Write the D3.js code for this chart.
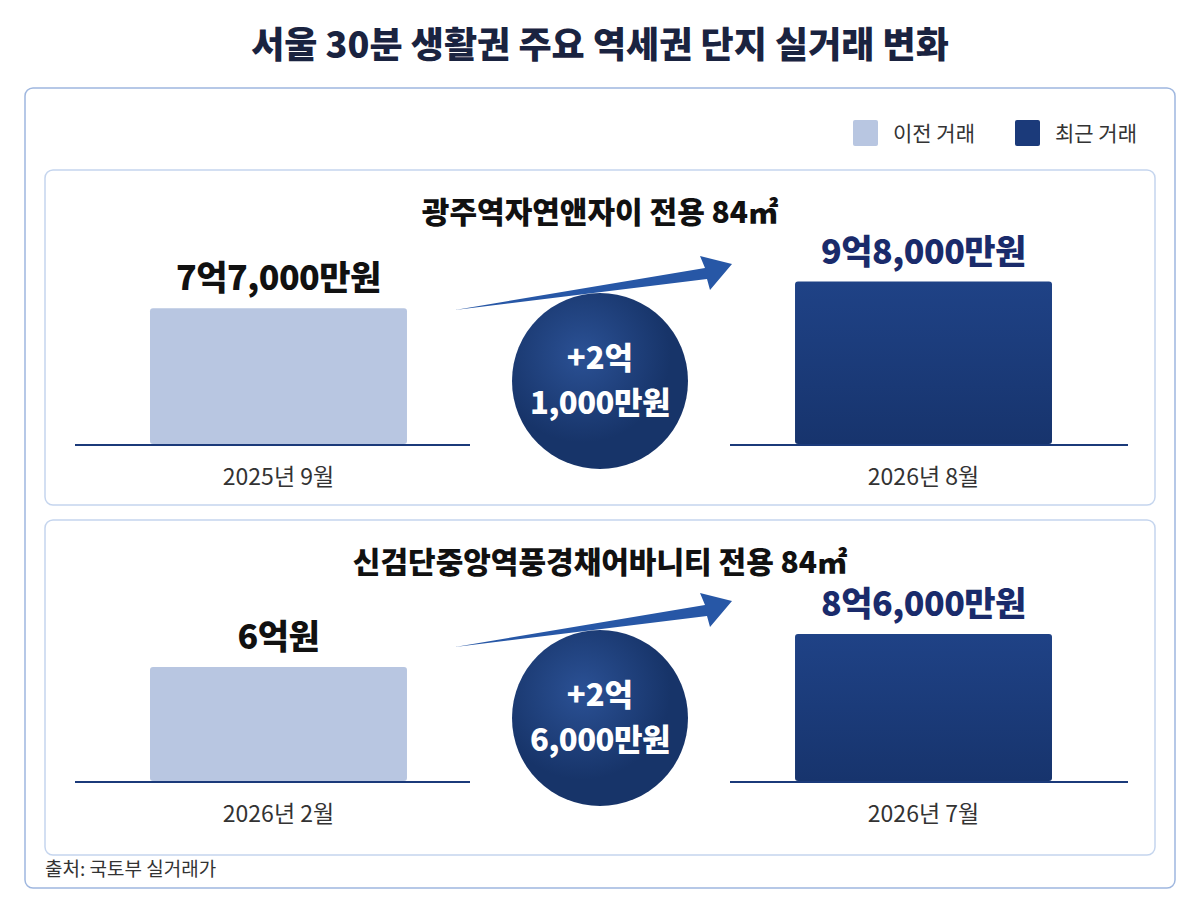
<!DOCTYPE html><html><head><meta charset="utf-8">
<script src="https://cdn.jsdelivr.net/npm/d3@7"></script>
<style>body{margin:0;background:#fff}text{font-family:"Noto Sans CJK KR","Noto Sans",sans-serif}</style></head><body>
<svg id="c" width="1200" height="900"></svg>
<script>
const titles=["광주역자연앤자이 전용 84㎡","신검단중앙역풍경채어바니티 전용 84㎡"];
const prevValues=[77000,60000];
const recentValues=[98000,86000];
const prevLabels=["7억7,000만원","6억원"];
const recentLabels=["9억8,000만원","8억6,000만원"];
const prevDates=["2025년 9월","2026년 2월"];
const recentDates=["2026년 8월","2026년 7월"];
const diffLines=[["+2억","1,000만원"],["+2억","6,000만원"]];
const legendLabels=["이전 거래","최근 거래"];
const LIGHT="#b8c6e1",DARK="#1b3a7a",NAVY="#1a2b6b";
const svg=d3.select("#c");
const defs=svg.append("defs");
const g1=defs.append("radialGradient").attr("id","cg").attr("cx","40%").attr("cy","35%");
g1.append("stop").attr("offset","0%").attr("stop-color","#2b5195");
g1.append("stop").attr("offset","100%").attr("stop-color","#173469");
const g2=defs.append("linearGradient").attr("id","bg").attr("x1",0).attr("y1",0).attr("x2",0).attr("y2",1);
g2.append("stop").attr("offset","0%").attr("stop-color","#1f4286");
g2.append("stop").attr("offset","100%").attr("stop-color","#17346d");
svg.append("text").attr("x",600).attr("y",58).attr("text-anchor","middle").attr("font-size",36).attr("font-weight",900).attr("fill","#1a2340").text("서울 30분 생활권 주요 역세권 단지 실거래 변화");
svg.append("rect").attr("x",25).attr("y",88).attr("width",1150).attr("height",800).attr("rx",8).attr("fill","#fff").attr("stroke","#9fb7df").attr("stroke-width",1.5);
[[853,LIGHT],[1015,DARK]].forEach((d,i)=>{
 svg.append("rect").attr("x",d[0]).attr("y",120).attr("width",25).attr("height",26).attr("rx",2).attr("fill",d[1]);
 svg.append("text").attr("x",d[0]+40).attr("y",141).attr("font-size",21).attr("fill","#333").text(legendLabels[i]);
});
const y=d3.scaleLinear().domain([-30000,100000]).range([0,166]);
const x=d3.scaleBand().domain(["prev","recent"]).range([150,1052]).paddingInner(0.6016).paddingOuter(0);
[0,1].forEach(i=>{
 const off=i*337, oy=i===0?170:520, base=445+off;
 const g=svg.append("g");
 g.append("rect").attr("x",45).attr("y",oy).attr("width",1110).attr("height",335).attr("rx",8).attr("fill","#fff").attr("stroke","#c5d5ee").attr("stroke-width",1.5);
 g.append("text").attr("x",600).attr("y",oy+53).attr("text-anchor","middle").attr("font-size",30).attr("font-weight",900).attr("fill","#111").text(titles[i]);
 g.append("line").attr("x1",75).attr("x2",470).attr("y1",base).attr("y2",base).attr("stroke","#1b3a7a").attr("stroke-width",2);
 g.append("line").attr("x1",730).attr("x2",1128).attr("y1",base).attr("y2",base).attr("stroke","#1b3a7a").attr("stroke-width",2);
 const bars=[{k:"prev",v:prevValues[i],l:prevLabels[i],d:prevDates[i],c:LIGHT,t:"#111"},{k:"recent",v:recentValues[i],l:recentLabels[i],d:recentDates[i],c:"url(#bg)",t:NAVY}];
 g.selectAll(".b").data(bars).join("rect").attr("x",d=>x(d.k)).attr("width",x.bandwidth()).attr("y",d=>base-y(d.v)).attr("height",d=>y(d.v)-1).attr("rx",3).attr("fill",d=>d.c);
 g.selectAll(".l").data(bars).join("text").attr("x",d=>x(d.k)+x.bandwidth()/2).attr("y",d=>base-y(d.v)-18).attr("text-anchor","middle").attr("font-size",34).attr("font-weight",900).attr("fill",d=>d.t).attr("letter-spacing",-0.5).text(d=>d.l);
 g.selectAll(".d").data(bars).join("text").attr("x",d=>x(d.k)+x.bandwidth()/2).attr("y",base+40).attr("text-anchor","middle").attr("font-size",23).attr("fill","#333").text(d=>d.d);
 g.append("path").attr("d",`M455,${310+off} L705,${268+off} L700,${256+off} L732,${264+off} L710,${290+off} L707,${279+off} Z`).attr("fill","#2757a6");
 g.append("circle").attr("cx",600).attr("cy",381+off).attr("r",88).attr("fill","url(#cg)");
 g.append("text").attr("x",600).attr("y",369+off).attr("text-anchor","middle").attr("font-size",31).attr("font-weight",900).attr("fill","#fff").text(diffLines[i][0]);
 g.append("text").attr("x",600).attr("y",414+off).attr("text-anchor","middle").attr("font-size",31).attr("font-weight",900).attr("fill","#fff").attr("letter-spacing",-0.5).text(diffLines[i][1]);
});
svg.append("text").attr("x",45).attr("y",876).attr("font-size",19).attr("fill","#333").text("출처: 국토부 실거래가");
</script></body></html>
